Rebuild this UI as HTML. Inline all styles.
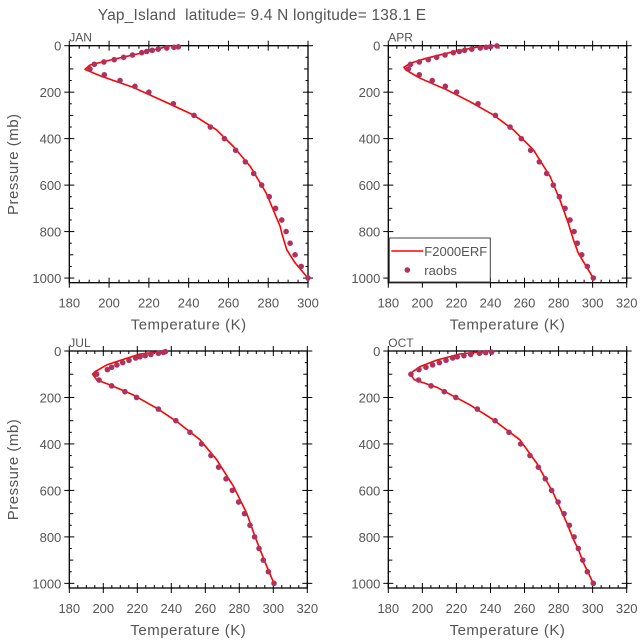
<!DOCTYPE html>
<html><head><meta charset="utf-8"><style>
body{margin:0;background:#fff;}
svg{display:block;font-family:"Liberation Sans",sans-serif;}
text{fill:#555;}
</style></head><body>
<svg id="fig" width="643" height="640" viewBox="0 0 643 640">
<text x="262" y="20" text-anchor="middle" font-size="15.5" style="white-space:pre;letter-spacing:0.2px">Yap_Island  latitude= 9.4 N longitude= 138.1 E</text>
</svg>
<script>
// ---- data (temperature K, pressure mb) ----
const janObsP=[5,7,10,15,20,25,30,40,50,60,70,80,100,125,150,175,200,250,300,350,400,450,500,550,600,650,700,750,800,850,900,950,1000];
const janObsT=[234.8,232.6,229,224.7,221.7,218.9,216.4,211.8,207.3,202.6,197.4,192.6,190.4,197.6,205.5,213,220,232.3,242.7,250.9,258,263.6,268.5,272.7,276.7,280.5,283.7,286.8,289,291,293.5,296.6,300];
const janModP=[0,33,62,83,102,129,179,245,298,362,434,520,634,778,806,878,935,1000];
const janModT=[231,215.5,200.4,190.4,187.9,195.4,212,229,242.3,254,262.5,271,279,286,286.8,289.3,293.5,300];

const aprObsP=[1,4,7,10,15,20,25,30,40,50,60,70,80,100,125,150,175,200,250,300,350,400,450,500,550,600,650,700,750,800,850,900,950,1000];
const aprObsT=[243.8,240.1,237.4,234,229,224.8,221.7,218.2,213.3,208.4,203.5,198.2,193.1,191.8,198.2,205.8,213.5,220.1,232.7,242.9,251.5,258.1,263.6,268.7,273,276.9,280.5,283.8,286.7,289.1,291,293.6,296.9,300.4];
const aprModP=[0,4,26,54,76,93,105,140,190,241,298,362,448,563,663,764,835,893,1000];
const aprModT=[242,233.8,218.2,202.5,192.7,189.2,190.4,198.6,214.3,228,241.7,253.4,265.2,275,280.8,285.7,288.7,291.6,300.4];

const julObsP=[3,6,10,15,20,25,30,40,50,60,70,80,100,125,150,175,200,250,300,350,400,450,500,550,600,650,700,750,800,850,900,950,1000];
const julObsT=[236.5,235.3,232.4,228,224.7,221.6,219,215.1,211.4,208,204.9,202.4,196.1,197.5,204.9,212.7,219.6,232.4,242.7,251,257.8,263.3,267.8,272.2,275.9,279.6,283.1,286.3,289,291.6,294.1,297.1,300.4];
const julModP=[0,13,36,60,89,100,124,146,189,246,303,382,468,582,697,797,854,926,1000];
const julModT=[236.9,221.6,211.8,202,195.1,193.7,196.1,203.9,217.6,231.4,243.1,256.9,266.7,276.5,284.3,289.2,292.2,296.1,300.4];

const octObsP=[5,7,10,15,20,25,30,40,50,60,70,80,100,125,150,175,200,250,300,350,400,450,500,550,600,650,700,750,800,850,900,950,1000];
const octObsT=[240.7,237.2,233.5,228.4,224.4,220.5,217.8,213.9,210,206,202.1,198,193.3,197.8,205.1,212.9,219.7,232.3,242.7,250.9,257.7,263.2,268.1,272.2,275.9,279.7,283.2,286.3,289.1,291.6,294.2,296.9,300.4];
const octModP=[0,13,39,67,89,99,124,156,232,296,382,482,611,740,811,854,911,1000];
const octModT=[238.7,222,208.4,198.6,194.3,192.8,195.3,208.4,228,241.7,257.3,267.1,276.9,284.8,288.7,291.6,294.6,300.4];

const xTicks=[180,200,220,240,260,280,300,320];
const yTicks=[0,200,400,600,800,1000];

const NS="http://www.w3.org/2000/svg";
const svg=document.getElementById('fig');
function mk(tag,attrs,parent){const e=document.createElementNS(NS,tag);for(const k in attrs)e.setAttribute(k,attrs[k]);(parent||svg).appendChild(e);return e;}

function panel(name,x0,x1,y0,tmax,obsP,obsT,modP,modT,showY,legend){
  const g=mk('g',{});
  
  
  const pmax=1020, y1=y0+237;
  const sx=t=>x0+(t-180)/(tmax-180)*(x1-x0);
  const sy=p=>y0+p/pmax*(y1-y0);
  const tk=mk('g',{stroke:'#000','stroke-width':1},g);
  
  
  for(let t=180;t<=tmax;t+=5){const x=sx(t);const maj=(t%20===0);
    mk('line',{x1:x,x2:x,y1:y1-(maj?5:3),y2:y1+(maj?5:0)},tk);
    mk('line',{x1:x,x2:x,y1:y0-(maj?5:0),y2:y0+(maj?5:3)},tk);}
  for(let p=0;p<=1000;p+=50){const y=sy(p);const maj=(p%200===0);const mid=(p%100===0);
    const L=maj?5:(mid?4:2.5);
    mk('line',{x1:x0-(maj?5:0),x2:x0+L,y1:y,y2:y},tk);
    mk('line',{x1:x1-L,x2:x1+(maj?5:0),y1:y,y2:y},tk);}
  const box=mk('rect',{x:x0,y:y0,width:x1-x0,height:y1-y0,fill:'none',stroke:'#000','stroke-width':1.3},g);
  
  
  xTicks.filter(t=>t<=tmax).forEach(t=>{const e=mk('text',{x:sx(t),y:y1+25,'text-anchor':'middle','font-size':13},g);e.textContent=t;
    
    });
  yTicks.forEach(p=>{const e=mk('text',{x:x0-8,y:sy(p)+5,'text-anchor':'end','font-size':13},g);e.textContent=p;
    
    });
  const xt=mk('text',{x:(x0+x1)/2,y:y1+47,'text-anchor':'middle','font-size':15,style:'letter-spacing:0.5px'},g);xt.textContent='Temperature (K)';
  
  
  if(showY){const yt=mk('text',{x:0,y:0,'text-anchor':'middle','font-size':15,style:'letter-spacing:0.5px',transform:`translate(18,${(y0+y1)/2}) rotate(-90)`},g);yt.textContent='Pressure (mb)';
    
    }
  const pt=mk('text',{x:x0,y:y0-4,'font-size':12},g);pt.textContent=name.toUpperCase();
  
  
  const d=modP.map((p,i)=>(i?'L':'M')+sx(modT[i]).toFixed(1)+' '+sy(p).toFixed(1)).join(' ');
  const ln=mk('path',{d:d,fill:'none',stroke:'#f00','stroke-width':1.6,'stroke-linejoin':'round'},g);
  
  
  obsP.forEach((p,i)=>{const c=mk('circle',{cx:sx(obsT[i]),cy:sy(p),r:2.8,fill:'#b0305e'},g);
    
    });
  if(legend){
    const lg=mk('g',{},g);
    
    
    mk('rect',{x:x0+1,y:238,width:101,height:44,fill:'#fff',stroke:'#444','stroke-width':1},lg);
    const l1=mk('line',{x1:x0+3,x2:x0+35,y1:251,y2:251,stroke:'#f00','stroke-width':1.6},lg);
    
    
    const t1=mk('text',{x:x0+36,y:256,'font-size':13},lg);t1.textContent='F2000ERF';
    
    
    const c=mk('circle',{cx:x0+19,cy:270,r:2.8,fill:'#b0305e'},lg);
    
    
    const t2=mk('text',{x:x0+36,y:275,'font-size':13},lg);t2.textContent='raobs';
    
    
  }
}
panel('jan',69.3,308,45.7,300,janObsP,janObsT,janModP,janModT,true,false);
panel('apr',388.3,626.7,45.7,320,aprObsP,aprObsT,aprModP,aprModT,false,true);
panel('jul',69.3,307.3,351,320,julObsP,julObsT,julModP,julModT,true,false);
panel('oct',388.3,626.7,351,320,octObsP,octObsT,octModP,octModT,false,false);
</script>
</body></html>
